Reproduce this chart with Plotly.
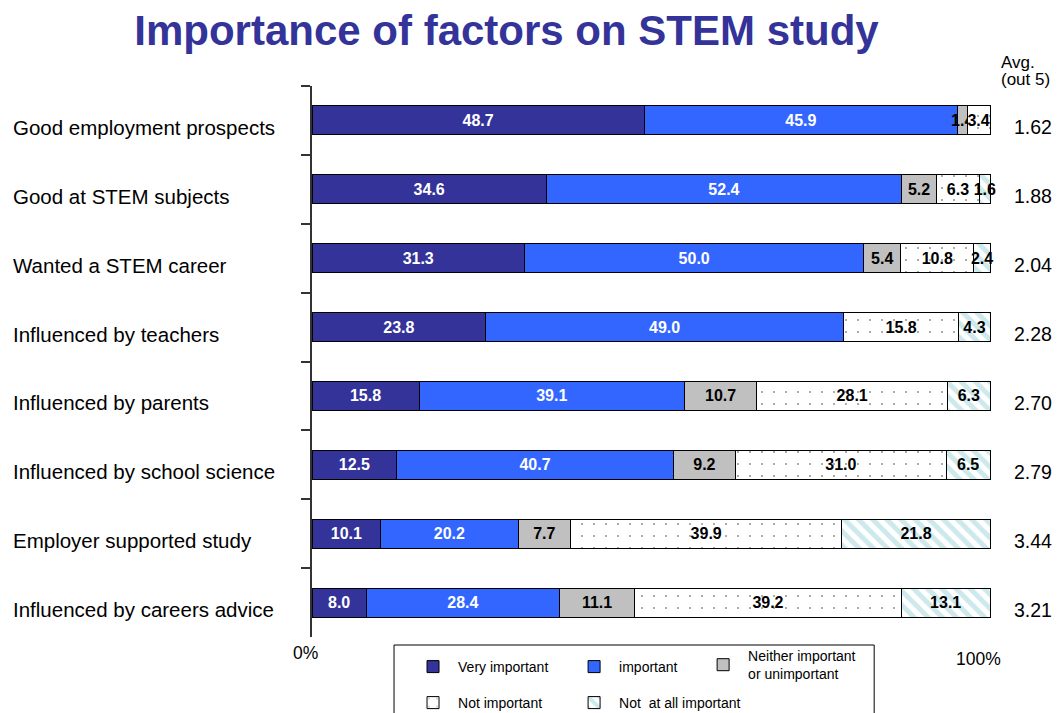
import plotly.graph_objects as go

categories = [
    "Good employment prospects",
    "Good at STEM subjects",
    "Wanted a STEM career",
    "Influenced by teachers",
    "Influenced by parents",
    "Influenced by school science",
    "Employer supported study",
    "Influenced by careers advice",
]
very_important = [48.7, 34.6, 31.3, 23.8, 15.8, 12.5, 10.1, 8.0]
important = [45.9, 52.4, 50.0, 49.0, 39.1, 40.7, 20.2, 28.4]
neither = [1.4, 5.2, 5.4, 0, 10.7, 9.2, 7.7, 11.1]
not_important = [3.4, 6.3, 10.8, 15.8, 28.1, 31.0, 39.9, 39.2]
not_at_all = [0, 1.6, 2.4, 4.3, 6.3, 6.5, 21.8, 13.1]
averages = ["1.62", "1.88", "2.04", "2.28", "2.70", "2.79", "3.44", "3.21"]

FONT = "Liberation Sans, Arial, sans-serif"

series = [
    ("Very important", very_important, dict(color="#333399"), "white", "legend"),
    ("important", important, dict(color="#3366FF"), "white", "legend2"),
    ("Neither important<br>or unimportant", neither, dict(color="#C0C0C0"), "black", "legend3"),
    ("Not important", not_important,
     dict(color="white", pattern=dict(shape=".", fgcolor="#333333", bgcolor="white",
                                      size=12, solidity=0.025)), "black", "legend4"),
    ("Not  at all important", not_at_all,
     dict(color="white", pattern=dict(shape="\\", fgcolor="#9CD3DA", bgcolor="white",
                                      size=10, solidity=0.5)), "black", "legend5"),
]

fig = go.Figure()
for name, vals, marker, tcolor, leg in series:
    m = dict(marker)
    m["line"] = dict(color="black", width=1)
    fig.add_trace(go.Bar(
        name=name, y=categories, x=vals, orientation="h",
        marker=m,
        text=[("%.1f" % v) if v else "" for v in vals],
        textposition="inside", insidetextanchor="middle", textangle=0,
        textfont=dict(family=FONT, size=16, color=tcolor, weight="bold"),
        legend=leg, hoverinfo="skip", showlegend=True,
    ))

# plot area: 0% at x=312px, 100% at x=990px; x range extends to 101 so labels are not clipped
X0_PX, X100_PX, XMAX = 312, 990, 101.0
PLOT_W = (X100_PX - X0_PX) * XMAX / 100.0
R_MARGIN = 1061 - X0_PX - PLOT_W

def px_x(px):
    return (px - X0_PX) / PLOT_W

def px_y(py):
    return (637 - py) / 551.0

annotations = []
for cat, avg in zip(categories, averages):
    annotations.append(dict(text=cat, x=px_x(11), xref="paper", y=cat, yref="y",
                            xanchor="left", yanchor="middle", yshift=-7, showarrow=False,
                            font=dict(family=FONT, size=20.5, color="black")))
    annotations.append(dict(text=avg, x=px_x(1033), xref="paper", y=cat, yref="y",
                            xanchor="center", yanchor="middle", yshift=-7, showarrow=False,
                            font=dict(family=FONT, size=19.5, color="black")))
annotations.append(dict(text="Avg.", x=px_x(999), xref="paper", y=px_y(62), yref="paper",
                        xanchor="left", yanchor="middle", showarrow=False,
                        font=dict(family=FONT, size=17, color="black")))
annotations.append(dict(text="(out 5)", x=px_x(999), xref="paper", y=px_y(80), yref="paper",
                        xanchor="left", yanchor="middle", showarrow=False,
                        font=dict(family=FONT, size=17, color="black")))
annotations.append(dict(text="0%", x=0, xref="x", xshift=-7, y=px_y(653), yref="paper",
                        xanchor="center", yanchor="middle", showarrow=False,
                        font=dict(family=FONT, size=17.5, color="black")))
annotations.append(dict(text="100%", x=100, xref="x", xshift=-12, y=px_y(659), yref="paper",
                        xanchor="center", yanchor="middle", showarrow=False,
                        font=dict(family=FONT, size=17.5, color="black")))

legend_common = dict(xref="paper", yref="paper", xanchor="left", yanchor="middle",
                     bgcolor="rgba(0,0,0,0)", borderwidth=0, itemwidth=40,
                     font=dict(family=FONT, size=14, color="black"))
legend_pos = {
    "legend": (408, 667),
    "legend2": (569, 667),
    "legend3": (698, 665),
    "legend4": (408, 703),
    "legend5": (569, 703),
}
legend_layout = {}
for k, (lx, ly) in legend_pos.items():
    d = dict(legend_common)
    d.update(x=px_x(lx), y=px_y(ly))
    legend_layout[k] = d

fig.update_layout(
    width=1061, height=713,
    paper_bgcolor="white", plot_bgcolor="white",
    margin=dict(l=X0_PX, r=R_MARGIN, t=86, b=76, autoexpand=False),
    showlegend=True,
    barmode="stack", barnorm="percent", bargap=0.58,
    uniformtext=dict(minsize=16, mode="show"),
    title=dict(text="<b>Importance of factors on STEM study</b>",
               x=506.5 / 1061, xref="container", xanchor="center",
               y=1 - 30 / 713, yref="container", yanchor="middle",
               font=dict(family=FONT, size=42, color="#333399")),
    xaxis=dict(range=[0, XMAX], visible=False, showgrid=False, zeroline=False),
    yaxis=dict(type="category", categoryorder="array", categoryarray=categories,
               autorange="reversed", showline=True, linecolor="#333333", linewidth=1.5,
               ticks="outside", tickson="boundaries", ticklen=9, tickcolor="#333333",
               tickwidth=1.5, showticklabels=False, showgrid=False, zeroline=False),
    annotations=annotations,
    shapes=[dict(type="rect", xref="paper", yref="paper",
                 x0=px_x(394), x1=px_x(874), y0=px_y(645), y1=px_y(730),
                 line=dict(color="black", width=1), fillcolor="rgba(0,0,0,0)")],
    **legend_layout,
)

fig.write_html("out.html", config={"displayModeBar": False},
               post_script="document.body.style.margin='0';document.body.style.overflow='hidden';")
